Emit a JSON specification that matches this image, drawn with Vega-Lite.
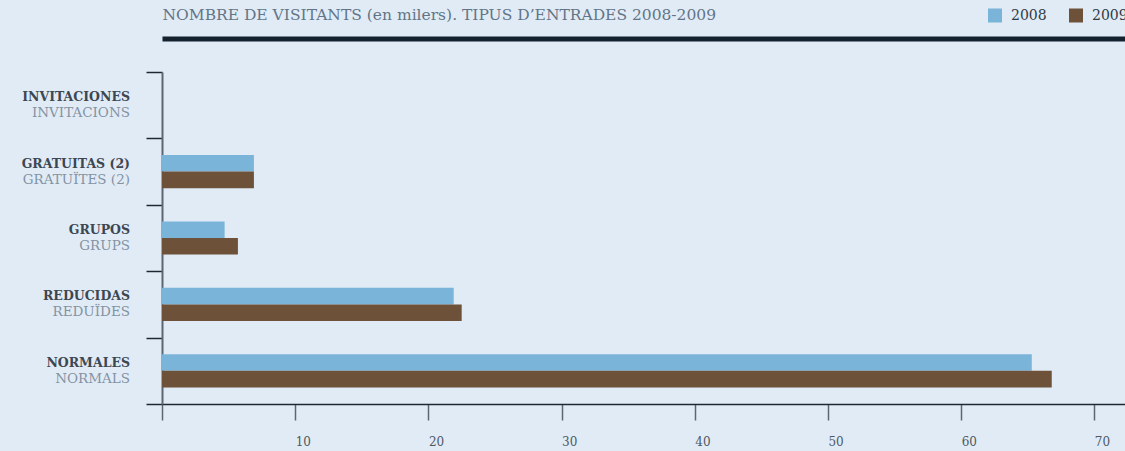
{
  "$schema": "https://vega.github.io/schema/vega-lite/v6.json",
  "width": 963,
  "height": 332,
  "autosize": {"type": "none"},
  "padding": {"left": 162, "top": 72, "right": 0, "bottom": 47},
  "background": "#e1ebf6",
  "config": {"view": {"stroke": null}, "font": "DejaVu Serif"},
  "datasets": {
    "bars": [
      {"cat": "INVITACIONES", "year": "2008", "value": 0},
      {"cat": "INVITACIONES", "year": "2009", "value": 0},
      {"cat": "GRATUITAS (2)", "year": "2008", "value": 6.9},
      {"cat": "GRATUITAS (2)", "year": "2009", "value": 6.9},
      {"cat": "GRUPOS", "year": "2008", "value": 4.7},
      {"cat": "GRUPOS", "year": "2009", "value": 5.7},
      {"cat": "REDUCIDAS", "year": "2008", "value": 21.9},
      {"cat": "REDUCIDAS", "year": "2009", "value": 22.5},
      {"cat": "NORMALES", "year": "2008", "value": 65.3},
      {"cat": "NORMALES", "year": "2009", "value": 66.8}
    ],
    "labels": [
      {"cat": "INVITACIONES", "es": "INVITACIONES", "ca": "INVITACIONS"},
      {"cat": "GRATUITAS (2)", "es": "GRATUITAS (2)", "ca": "GRATUÏTES (2)"},
      {"cat": "GRUPOS", "es": "GRUPOS", "ca": "GRUPS"},
      {"cat": "REDUCIDAS", "es": "REDUCIDAS", "ca": "REDUÏDES"},
      {"cat": "NORMALES", "es": "NORMALES", "ca": "NORMALS"}
    ]
  },
  "layer": [
    {
      "data": {"name": "bars"},
      "mark": {"type": "bar"},
      "encoding": {
        "y": {
          "field": "cat", "type": "nominal",
          "sort": ["INVITACIONES", "GRATUITAS (2)", "GRUPOS", "REDUCIDAS", "NORMALES"],
          "scale": {"paddingInner": 0, "paddingOuter": 0},
          "axis": {
            "title": null, "labels": false, "ticks": true, "tickBand": "extent",
            "tickSize": 16, "tickColor": "#1c2833", "tickWidth": 1.5,
            "domainColor": "#5b6672", "domainWidth": 2, "grid": false
          }
        },
        "yOffset": {"field": "year", "type": "nominal", "scale": {"paddingOuter": 1, "paddingInner": 0}},
        "x": {
          "field": "value", "type": "quantitative",
          "scale": {"domain": [0, 72.3], "nice": false},
          "axis": {
            "orient": "bottom", "title": null, "grid": false,
            "values": [0, 10, 20, 30, 40, 50, 60, 70],
            "labelExpr": "datum.value == 0 ? '' : datum.label",
            "tickSize": 16, "tickColor": "#5b6672", "tickWidth": 1.5,
            "domainColor": "#1c2833", "domainWidth": 1.5,
            "labelAlign": "left", "labelPadding": 16, "labelFontSize": 12,
            "labelColor": "#4d5863", "labelFlush": false
          }
        },
        "color": {
          "field": "year", "type": "nominal",
          "scale": {"domain": ["2008", "2009"], "range": ["#7ab4d8", "#6e5139"]},
          "legend": {
            "title": null, "orient": "none", "legendX": 826, "legendY": -63.5,
            "direction": "horizontal", "symbolType": "square", "symbolSize": 196,
            "symbolStrokeWidth": 0, "labelFontSize": 14, "labelColor": "#2e3a45",
            "labelOffset": 9, "columnPadding": 22, "padding": 0
          }
        }
      }
    },
    {
      "data": {"name": "labels"},
      "mark": {"type": "text", "align": "right", "baseline": "middle", "dx": -32, "dy": -8, "fontSize": 12.5, "fontWeight": "bold", "color": "#3c4752"},
      "encoding": {
        "y": {"field": "cat", "type": "nominal", "sort": ["INVITACIONES", "GRATUITAS (2)", "GRUPOS", "REDUCIDAS", "NORMALES"]},
        "x": {
          "datum": 0, "type": "quantitative",
          "axis": {
            "orient": "top", "offset": 33.5, "domainWidth": 5, "domainColor": "#13222e",
            "ticks": false, "labels": false, "grid": false,
            "title": "NOMBRE DE VISITANTS (en milers). TIPUS D’ENTRADES 2008-2009",
            "titleFontSize": 15.5, "titleColor": "#627587", "titleFontWeight": "normal",
            "titleAlign": "left", "titleAnchor": "start", "titleX": 0, "titleY": -24,
            "titleBaseline": "middle"
          }
        },
        "text": {"field": "es"}
      }
    },
    {
      "data": {"name": "labels"},
      "mark": {"type": "text", "align": "right", "baseline": "middle", "dx": -32, "dy": 8, "fontSize": 13.5, "color": "#8393a3"},
      "encoding": {
        "y": {"field": "cat", "type": "nominal", "sort": ["INVITACIONES", "GRATUITAS (2)", "GRUPOS", "REDUCIDAS", "NORMALES"]},
        "x": {"datum": 0, "type": "quantitative", "axis": null},
        "text": {"field": "ca"}
      }
    }
  ],
  "resolve": {"axis": {"x": "independent"}}
}
